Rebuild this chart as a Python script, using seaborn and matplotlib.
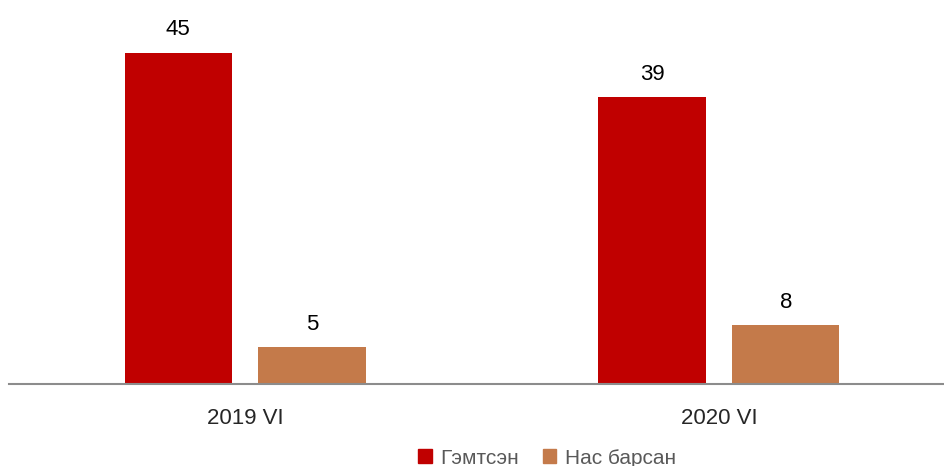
import matplotlib.pyplot as plt
import seaborn as sns
import pandas as pd

categories = ["2019 VI", "2020 VI"]
series = ["Гэмтсэн", "Нас барсан"]
injured = [45, 39]
deaths = [5, 8]
colors = ["#C00000", "#C47A4A"]

df = pd.DataFrame({
    "period": categories * 2,
    "series": [series[0]] * 2 + [series[1]] * 2,
    "value": injured + deaths,
})

sns.set_style("white")
plt.rcParams["font.family"] = ["Liberation Sans", "DejaVu Sans"]

fig = plt.figure(figsize=(9.45, 4.66), dpi=100)
ax = fig.add_axes([9 / 945, 1 - 384 / 466, 936 / 945, 384 / 466])

sns.barplot(data=df, x="period", y="value", hue="series", palette=colors,
            saturation=1, width=0.565, gap=0.2, linewidth=0, ax=ax, legend=False)

for container in ax.containers:
    ax.bar_label(container, fontsize=16, padding=9, color="#000000")

ax.set_xlim(-0.498, 1.477)
ax.set_ylim(0, 52.2)
ax.set_xlabel("")
ax.set_ylabel("")
ax.set_yticks([])
ax.tick_params(axis="x", length=0, labelsize=16, pad=17)
for side in ["top", "right", "left"]:
    ax.spines[side].set_visible(False)
ax.spines["bottom"].set_color("#8C8C8C")
ax.spines["bottom"].set_linewidth(1.5)

handles = [plt.Rectangle((0, 0), 1, 1, color=c) for c in colors]
leg = fig.legend(handles, series, loc="center", bbox_to_anchor=(547 / 945, 1 - 458 / 466),
                 ncol=2, frameon=False, fontsize=15, handlelength=0.65, handleheight=0.65,
                 handletextpad=0.4, columnspacing=1.15)
for t in leg.get_texts():
    t.set_color("#595959")

fig.savefig("out.png", dpi=100)
